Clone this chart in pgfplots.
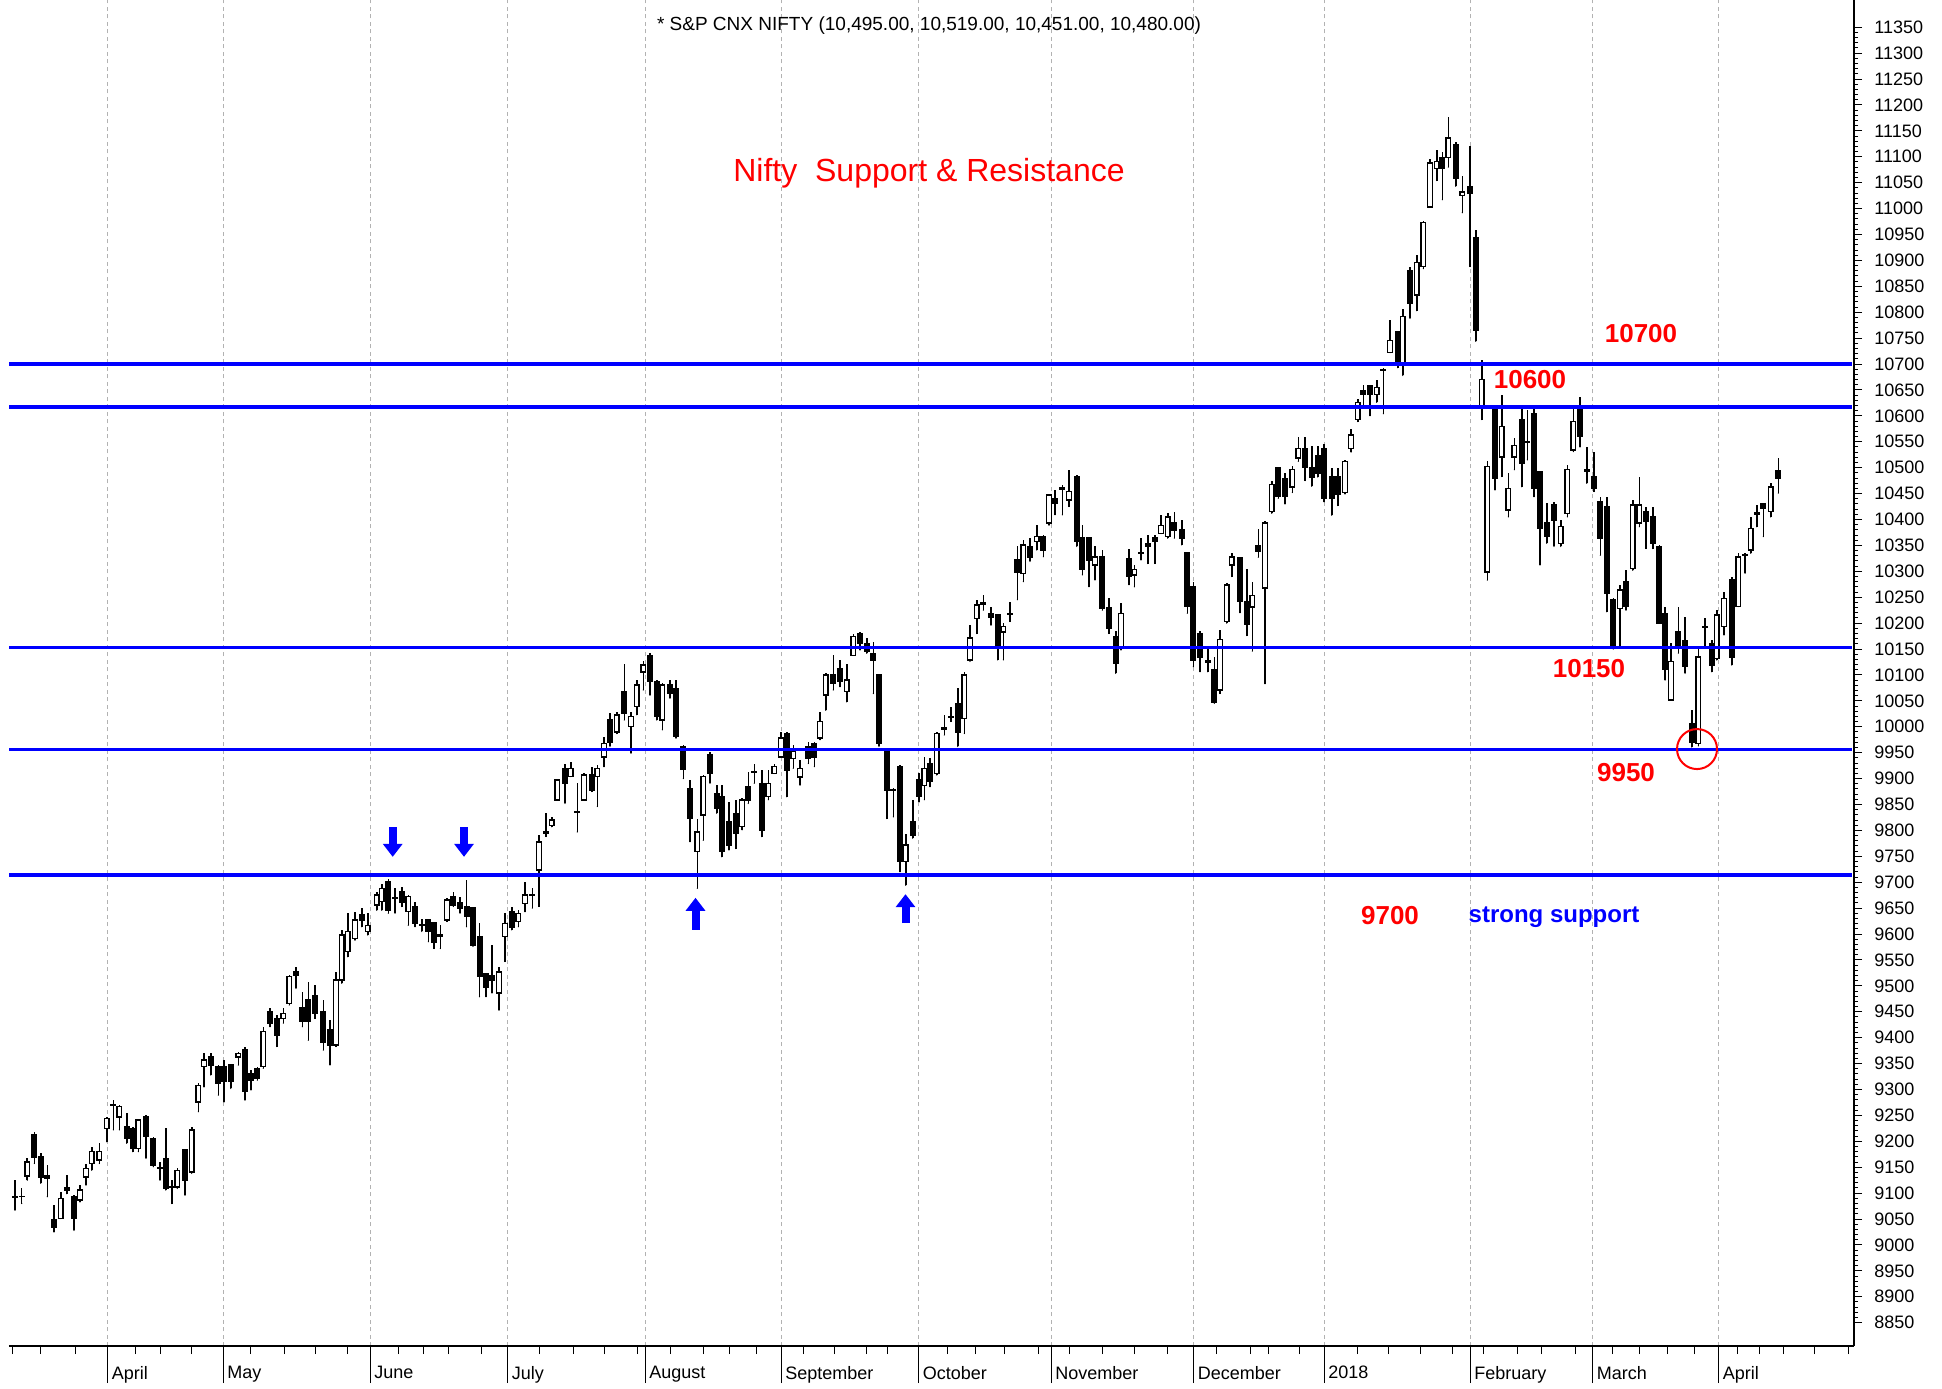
\documentclass[border=0pt]{standalone}
\usepackage{pgfplots}
\usepackage{pgfplotstable}
\usepackage{fontspec}
\setmainfont{Liberation Sans}
\pgfplotsset{compat=1.18}
\usetikzlibrary{arrows.meta}

\pgfplotstableread{
x o h l c
15 9092 9125 9067 9094
21.7 9093 9109 9080 9094
27.3 9133 9167 9125 9160
34.3 9212 9218 9157 9170
40.7 9170 9177 9119 9131
47.3 9133 9154 9093 9128
54 9049 9077 9025 9035
60.7 9051 9103 9051 9090
66.7 9111 9135 9099 9106
74 9093 9096 9028 9051
80 9087 9115 9083 9106
86 9131 9157 9115 9147
91.7 9157 9189 9144 9180
99.3 9164 9196 9157 9180
106.7 9225 9247 9199 9244
113.3 9269 9280 9222 9271
119.3 9247 9270 9222 9267
126.7 9228 9254 9196 9205
132.7 9225 9228 9180 9186
138.3 9186 9244 9180 9241
146 9247 9250 9167 9209
153.3 9206 9209 9151 9154
160 9147 9160 9125 9149
165.7 9167 9225 9106 9109
171.7 9111 9125 9080 9113
177.3 9112 9148 9109 9144
185 9183 9186 9096 9125
191.7 9141 9228 9138 9222
198.3 9276 9312 9257 9308
204 9344 9370 9305 9357
210.7 9363 9370 9328 9347
218.3 9344 9347 9289 9312
224 9344 9357 9276 9315
230.7 9347 9350 9302 9315
238.3 9363 9373 9347 9370
245 9376 9382 9279 9296
251 9331 9338 9299 9318
257.3 9341 9344 9318 9322
263.3 9344 9421 9341 9412
270 9450 9457 9421 9428
276.7 9437 9444 9383 9405
283.3 9437 9457 9428 9447
289.3 9466 9521 9463 9518
296 9527 9537 9495 9521
302.3 9457 9489 9421 9431
308.3 9473 9508 9395 9431
315 9482 9502 9437 9447
323.3 9450 9473 9376 9392
330 9415 9434 9347 9386
336 9386 9527 9383 9511
341.7 9511 9608 9505 9598
347.7 9566 9640 9556 9605
355 9592 9643 9588 9627
361.7 9637 9650 9614 9627
367.7 9605 9640 9598 9617
376.7 9656 9682 9646 9675
381.7 9663 9697 9646 9688
388.3 9701 9707 9640 9646
395 9669 9688 9640 9670
401.7 9682 9691 9653 9662
408.3 9643 9675 9617 9672
415 9653 9662 9614 9621
421.7 9616 9630 9605 9618
428.3 9627 9630 9585 9605
434 9621 9624 9572 9585
440.3 9598 9617 9572 9595
447 9627 9669 9624 9666
453.3 9672 9682 9653 9656
460 9660 9672 9640 9650
466.5 9653 9704 9614 9634
473 9650 9653 9576 9579
479.5 9595 9621 9479 9518
486 9524 9524 9479 9498
492 9520 9579 9486 9511
499 9486 9537 9453 9527
505 9595 9640 9547 9620
511.7 9643 9653 9608 9614
518.3 9624 9646 9614 9640
525 9659 9701 9643 9675
532.3 9674 9688 9650 9676
539 9724 9791 9653 9778
546 9797 9833 9788 9794
551.7 9810 9826 9807 9820
557.3 9859 9900 9859 9897
565 9920 9929 9852 9891
570.7 9904 9932 9904 9920
577.3 9835 9891 9797 9837
584 9859 9910 9859 9907
591.7 9907 9923 9875 9878
597.3 9904 9926 9846 9920
604 9942 9981 9923 9968
610 10013 10026 9962 9971
616.7 9990 10029 9987 10023
624.3 10068 10122 10013 10026
631 10000 10029 9949 10020
636.7 10039 10090 10023 10081
643.3 10106 10126 10071 10119
650 10138 10142 10061 10087
656.7 10087 10090 10013 10020
662.3 10013 10084 9994 10081
670 10081 10090 10055 10065
676 10074 10090 9978 9981
683.3 9962 9965 9900 9917
690 9881 9897 9778 9823
697.3 9759 9823 9688 9797
703.3 9830 9907 9781 9904
710 9946 9952 9891 9910
716.7 9871 9888 9833 9842
721.7 9865 9888 9749 9759
729 9817 9855 9762 9772
735.7 9833 9859 9765 9794
742 9807 9862 9801 9859
748.3 9884 9913 9852 9859
754.3 9912 9929 9891 9914
761.7 9891 9916 9788 9801
768.3 9865 9916 9859 9891
774.3 9910 9929 9910 9923
781 9942 9990 9942 9978
786.7 9987 9990 9865 9916
793.3 9939 9965 9920 9952
800 9903 9936 9887 9920
808.3 9962 9971 9929 9939
814.3 9968 9971 9923 9942
820 9978 10029 9975 10010
825.7 10061 10103 10032 10100
833.3 10100 10138 10071 10084
840 10113 10129 10077 10087
846.7 10068 10122 10048 10090
853.3 10138 10180 10138 10174
860 10180 10183 10148 10161
866.7 10161 10171 10142 10145
873.3 10142 10164 10064 10129
879 10100 10100 9962 9968
886.7 9952 9952 9823 9878
893.3 9877 9881 9826 9879
900 9923 9926 9720 9740
905.7 9740 9794 9694 9772
912.7 9817 9859 9785 9791
919 9897 9910 9855 9865
924.3 9887 9942 9859 9920
930 9929 9939 9884 9894
936.7 9910 9990 9907 9987
944.3 9996 10023 9984 9998
951 10018 10039 10010 10020
957.7 10045 10074 9962 9990
964.3 10016 10106 9987 10100
970 10129 10196 10126 10171
976.7 10209 10245 10180 10235
983.3 10237 10254 10225 10239
991 10219 10232 10196 10212
997.7 10216 10216 10129 10155
1003.3 10183 10200 10129 10193
1010 10217 10241 10203 10219
1017.3 10322 10348 10245 10299
1023.3 10296 10360 10280 10351
1030 10348 10364 10319 10328
1036.7 10357 10389 10341 10367
1043.3 10367 10370 10328 10341
1049 10393 10450 10389 10447
1055 10441 10457 10409 10431
1062.3 10461 10467 10409 10459
1069 10438 10496 10425 10454
1076.7 10483 10486 10348 10357
1082.3 10364 10389 10293 10303
1089 10364 10364 10270 10322
1095 10312 10348 10283 10328
1102.3 10328 10341 10225 10229
1109 10229 10248 10180 10190
1115.7 10174 10184 10103 10122
1121 10151 10238 10148 10219
1129 10325 10344 10274 10290
1134.3 10293 10312 10270 10303
1141 10334 10364 10322 10336
1147.7 10354 10370 10315 10348
1155 10364 10370 10315 10357
1161 10373 10409 10373 10389
1167.7 10367 10412 10364 10405
1174.3 10393 10415 10364 10380
1181.7 10380 10399 10351 10364
1187.3 10335 10335 10219 10232
1193.3 10270 10280 10116 10129
1200 10180 10184 10106 10135
1207.7 10125 10155 10106 10127
1214.3 10110 10135 10045 10048
1220 10071 10187 10064 10168
1226.7 10203 10277 10200 10274
1231.7 10312 10335 10290 10328
1240 10327 10327 10220 10242
1246.7 10242 10305 10176 10198
1252.3 10231 10279 10146 10253
1258.3 10349 10382 10327 10338
1265 10268 10397 10083 10393
1271.7 10416 10475 10412 10467
1278.3 10500 10500 10441 10445
1285 10478 10489 10430 10445
1292.3 10463 10504 10452 10497
1298.3 10519 10559 10512 10537
1305 10537 10559 10475 10500
1311.7 10500 10541 10464 10482
1317.7 10523 10541 10482 10489
1324 10537 10545 10434 10441
1331.7 10482 10500 10408 10441
1337.7 10482 10500 10427 10449
1345 10452 10515 10449 10512
1351 10537 10574 10530 10563
1357.7 10593 10633 10589 10626
1363.3 10648 10659 10619 10641
1370 10659 10659 10600 10641
1376.7 10641 10670 10626 10655
1383.3 10688 10692 10604 10690
1390 10722 10785 10722 10746
1397.7 10763 10763 10693 10700
1402.7 10700 10807 10678 10792
1410 10881 10888 10788 10818
1416.7 10833 10910 10803 10896
1423.3 10888 10977 10884 10973
1430 11003 11095 11003 11088
1436.7 11077 11113 11054 11091
1442.3 11099 11110 11017 11077
1448.3 11099 11176 11080 11136
1455.7 11124 11128 11043 11058
1462.3 11025 11062 10992 11032
1470 11043 11121 10888 11029
1475.7 10944 10958 10744 10766
1481.7 10615 10707 10593 10670
1487.3 10299 10512 10283 10502
1495 10611 10621 10457 10479
1501.7 10521 10640 10483 10579
1508.3 10418 10489 10405 10460
1514.3 10521 10557 10496 10543
1521.7 10592 10618 10463 10508
1527.3 10549 10611 10515 10551
1534 10605 10618 10444 10460
1540 10492 10492 10312 10383
1546.7 10393 10431 10354 10367
1554 10428 10434 10348 10399
1560.7 10354 10399 10348 10386
1567.3 10412 10505 10405 10496
1573.3 10534 10618 10531 10589
1580 10618 10637 10540 10560
1586.7 10494 10540 10470 10496
1594 10483 10531 10454 10460
1600.3 10434 10444 10331 10364
1606.7 10425 10444 10222 10257
1613.3 10245 10248 10150 10155
1620 10228 10274 10155 10264
1626 10280 10302 10225 10232
1632.7 10306 10438 10302 10428
1639.3 10393 10483 10386 10428
1646 10415 10425 10344 10396
1652.7 10405 10425 10344 10354
1659.3 10348 10351 10200 10200
1665 10219 10232 10090 10110
1671 10052 10161 10052 10126
1678.3 10184 10232 10142 10155
1685 10167 10212 10103 10116
1691.7 10006 10032 9961 9971
1698.3 9968 10151 9963 10135
1705 10192 10209 10155 10194
1711.7 10161 10167 10106 10119
1716.7 10132 10225 10129 10216
1724 10193 10261 10177 10248
1731.7 10283 10290 10119 10135
1738.3 10232 10335 10232 10328
1745 10330 10335 10296 10332
1750.7 10341 10405 10335 10383
1756.7 10411 10428 10386 10413
1763.3 10431 10431 10367 10422
1770.7 10415 10470 10405 10463
1778.3 10495 10519 10451 10480
}\candles

\pgfplotsset{
  base/.style={
    scale only axis, width=922.5pt, height=673pt,
    xmin=9, xmax=1854, ymin=8805, ymax=11402.6,
    at={(0pt,0pt)}, anchor=south west,
  },
}

\begin{document}
\begin{tikzpicture}
\useasboundingbox (-4.5pt,-21pt) rectangle (966.5pt,673pt);
\fill[white] (-4.5pt,-21pt) rectangle (966.5pt,673pt);

% Axis A: grid, bottom axis, wicks
\begin{axis}[base,
  axis x line*=bottom, axis y line=none,
  x axis line style={line width=1.2pt},
  xtick={107.5,223,370,507.5,645,781,918.5,1051,1193.5,1324,1470,1592.5,1718.5},
  xticklabels={April,May,June,July,August,September,October,November,December,2018,February,March,April},
  minor xtick={12.5,40.6,75,135.6,160.6,191.9,250,284,315.6,347,398,423,448,481,539,573,604,637.5,670,703,729,756,803,834,866,887.5,947,975,1004.5,1038,1069,1102.7,1134.6,1167,1216,1250,1268,1299,1357,1388,1420.5,1452,1483,1517,1541,1575,1612,1639.5,1667,1694.7,1737.7,1759,1783.7,1814,1848},
  tick align=outside,
  major tick length=18.5pt, minor tick length=4pt,
  every tick/.style={black, line width=0.5pt},
  xmajorgrids,
  major grid style={gray!60, dash pattern=on 2pt off 1.75pt, line width=0.5pt},
  xticklabel style={anchor=north west, inner sep=0pt, xshift=2pt, yshift=8.5pt, font=\fontsize{9}{10}\selectfont},
  clip=false,
]
\addplot[only marks, mark=*, mark size=0.01pt, mark options={draw=none, fill=none},
  error bars/.cd, y dir=plus, y explicit, error mark=none,
  error bar style={line width=0.8pt, draw=black}]
  table[x=x, y=l, y error expr=\thisrow{h}-\thisrow{l}] \candles;
\end{axis}

% Axis B: candle bodies
\begin{axis}[base, hide axis, ybar stacked, bar width=4.6]
\addplot[draw=none, fill=none] table[x=x, y expr={min(\thisrow{o},\thisrow{c})}] \candles;
\addplot[fill=white, draw=black, line width=0.7pt] table[x=x, y expr={max(\thisrow{c}-\thisrow{o},0)}] \candles;
\addplot[fill=black, draw=black, line width=0.7pt] table[x=x, y expr={max(\thisrow{o}-\thisrow{c},0)}] \candles;
\end{axis}

% Axis C: right axis, support/resistance lines, annotations
\begin{axis}[base,
  axis x line=none, axis y line*=right,
  y axis line style={line width=0.8pt},
  ytick={8850,8900,...,11350}, minor y tick num=4,
  scaled y ticks=false,
  tick align=outside, major tick length=4pt, minor tick length=2pt,
  every tick/.style={black, line width=0.5pt},
  yticklabel style={anchor=west, inner sep=0pt, xshift=6pt, font=\fontsize{9}{10}\selectfont},
  /pgf/number format/1000 sep={},
  /pgf/number format/assume math mode=true,
  clip=false,
]
\addplot[blue, line width=1.9pt] coordinates {(9,10700) (1852,10700)};
\addplot[blue, line width=1.9pt] coordinates {(9,10617) (1852,10617)};
\addplot[blue, line width=1.9pt] coordinates {(9,10153) (1852,10153)};
\addplot[blue, line width=1.9pt] coordinates {(9,9956) (1852,9956)};
\addplot[blue, line width=1.9pt] coordinates {(9,9714) (1852,9714)};

\node[font=\fontsize{9.5}{11}\selectfont] at (axis cs:929,11354) {* S\&P CNX NIFTY (10,495.00, 10,519.00, 10,451.00, 10,480.00)};
\node[red, font=\fontsize{16}{18}\selectfont] at (axis cs:929,11068) {Nifty\ \ Support \& Resistance};
\node[red, font=\bfseries\fontsize{13}{15}\selectfont] at (axis cs:1641,10758) {10700};
\node[red, font=\bfseries\fontsize{13}{15}\selectfont] at (axis cs:1530,10671) {10600};
\node[red, font=\bfseries\fontsize{13}{15}\selectfont] at (axis cs:1589,10112) {10150};
\node[red, font=\bfseries\fontsize{13}{15}\selectfont] at (axis cs:1626,9911) {9950};
\node[red, font=\bfseries\fontsize{13}{15}\selectfont] at (axis cs:1390,9636) {9700};
\node[blue, font=\bfseries\fontsize{12}{14}\selectfont] at (axis cs:1554,9632) {strong support};

\draw[red, line width=1pt] (axis cs:1697,9957) circle[radius=10pt];

\draw[blue, line width=4pt, -{Triangle[length=6.5pt, width=9.5pt]}] (axis cs:392.7,9806) -- (axis cs:392.7,9749);
\draw[blue, line width=4pt, -{Triangle[length=6.5pt, width=9.5pt]}] (axis cs:464,9806) -- (axis cs:464,9749);
\draw[blue, line width=4pt, -{Triangle[length=6.5pt, width=9.5pt]}] (axis cs:695.5,9608) -- (axis cs:695.5,9670);
\draw[blue, line width=4pt, -{Triangle[length=6.5pt, width=9.5pt]}] (axis cs:905.5,9621) -- (axis cs:905.5,9677);
\end{axis}
\end{tikzpicture}
\end{document}
